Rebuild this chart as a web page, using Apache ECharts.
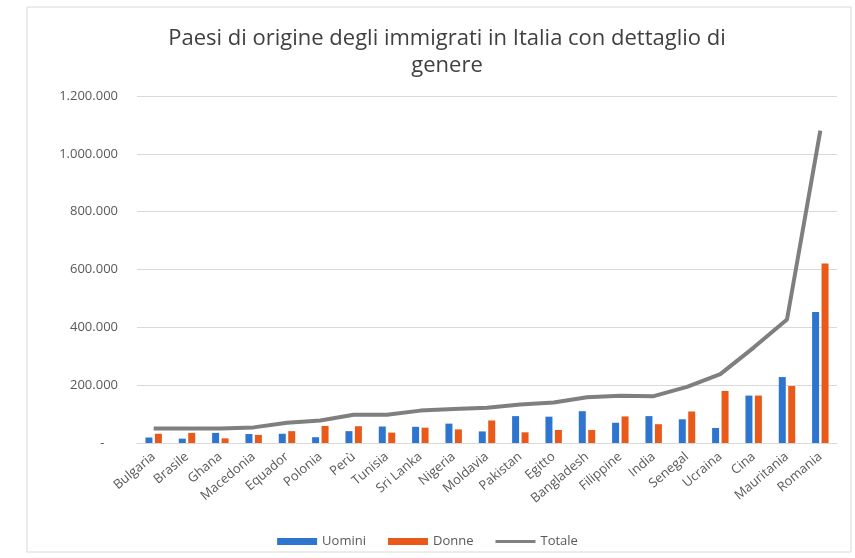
<!DOCTYPE html>
<html>
<head>
<meta charset="utf-8">
<script src="https://cdn.jsdelivr.net/npm/echarts@6/dist/echarts.min.js"></script>
<style>
  html, body { margin: 0; padding: 0; background: #ffffff; }
  #chart { width: 855px; height: 558px; }
</style>
</head>
<body>
<div id="chart"></div>
<script>
// Paesi di origine (ordinati per totale crescente)
const paesi = ['Bulgaria', 'Brasile', 'Ghana', 'Macedonia', 'Equador', 'Polonia', 'Perù',
  'Tunisia', 'Sri Lanka', 'Nigeria', 'Moldavia', 'Pakistan', 'Egitto', 'Bangladesh',
  'Filippine', 'India', 'Senegal', 'Ucraina', 'Cina', 'Mauritania', 'Romania'];

// Residenti per genere
const uomini = [19000, 15000, 35000, 31000, 32000, 20000, 41000, 57000, 56000, 67000, 40000,
  93000, 91000, 110000, 70000, 93000, 82000, 52000, 164000, 228000, 453000];
const donne = [32000, 35000, 16000, 28000, 41000, 59000, 58000, 36000, 53000, 47000, 78000,
  37000, 45000, 45000, 92000, 65000, 109000, 180000, 164000, 197000, 621000];

// Totale residenti
const totale = [50000, 50000, 50000, 54000, 70000, 78000, 98000, 98000, 112000, 118000, 122000,
  133000, 140000, 158000, 163000, 162000, 194000, 238000, 330000, 427000, 1080000];

// Scala dell'asse verticale
const yMax = 1200000;
const yStep = 200000;

const font = '"Open Sans", "Liberation Sans", sans-serif';
const textGray = '#595959';

// Formato contabile: separatore delle migliaia col punto, zero come trattino
function formatIt(v) {
  if (v === 0) return '-    ';
  return String(v).replace(/\B(?=(\d{3})+(?!\d))/g, '.');
}

const chart = echarts.init(document.getElementById('chart'), null, { renderer: 'canvas' });

chart.setOption({
  backgroundColor: '#ffffff',
  animation: false,
  graphic: [{
    type: 'rect',
    shape: { x: 27, y: 7, width: 824, height: 545 },
    style: { fill: 'none', stroke: '#d9d9d9', lineWidth: 1 },
    silent: true,
    z: -1
  }],
  title: {
    text: 'Paesi di origine degli immigrati in Italia con dettaglio di\ngenere',
    left: 442,
    top: 20,
    textAlign: 'center',
    textStyle: {
      fontFamily: font,
      fontSize: 22,
      fontWeight: 'normal',
      color: '#404040',
      lineHeight: 27
    }
  },
  legend: {
    top: 530,
    left: 'center',
    itemGap: 22,
    itemWidth: 40,
    itemHeight: 7,
    textStyle: { fontFamily: font, fontSize: 13, color: textGray },
    data: [
      { name: 'Uomini', icon: 'rect' },
      { name: 'Donne', icon: 'rect' },
      { name: 'Totale', icon: 'path://M0,0 L40,0 L40,3 L0,3 Z', itemStyle: { color: '#808080' } }
    ]
  },
  grid: { left: 137, right: 18, top: 96, bottom: 115, containLabel: false },
  xAxis: {
    type: 'category',
    data: paesi,
    axisLine: { show: true, lineStyle: { color: '#d9d9d9', width: 1 } },
    axisTick: { show: false },
    axisLabel: {
      rotate: 40,
      interval: 0,
      margin: 12,
      fontFamily: font,
      fontSize: 13,
      color: textGray
    }
  },
  yAxis: {
    type: 'value',
    min: 0,
    max: yMax,
    interval: yStep,
    axisLine: { show: false },
    axisTick: { show: false },
    splitLine: { lineStyle: { color: '#d9d9d9', width: 1 } },
    axisLabel: {
      margin: 19,
      fontFamily: font,
      fontSize: 13,
      color: textGray,
      formatter: formatIt
    }
  },
  series: [
    {
      name: 'Uomini',
      type: 'bar',
      data: uomini,
      barWidth: 7,
      barGap: '35%',
      itemStyle: { color: '#2E75D0' }
    },
    {
      name: 'Donne',
      type: 'bar',
      data: donne,
      barWidth: 7,
      itemStyle: { color: '#E8591A' }
    },
    {
      name: 'Totale',
      type: 'line',
      data: totale,
      symbol: 'none',
      lineStyle: { color: '#7f7f7f', width: 4 },
      itemStyle: { color: '#7f7f7f' },
      z: 3
    }
  ]
});
</script>
</body>
</html>
